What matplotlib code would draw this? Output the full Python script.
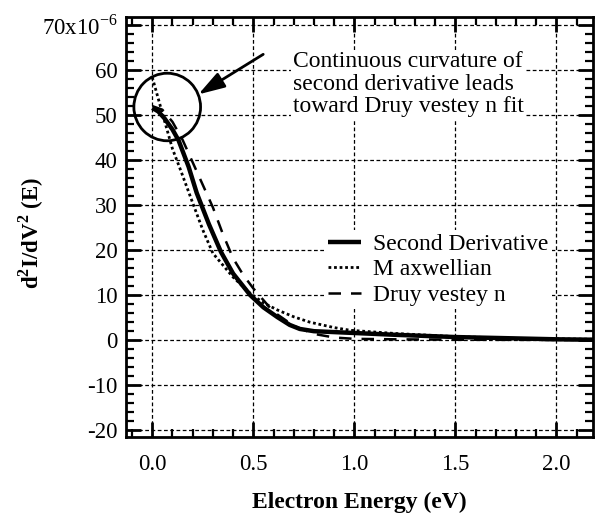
import matplotlib
matplotlib.use("Agg")
import matplotlib.pyplot as plt
from matplotlib.patches import Ellipse
from matplotlib.ticker import MultipleLocator, FuncFormatter

# ---- data (y in units of 1e-6) ----
second_x = [0.0, 0.03, 0.06, 0.1, 0.13, 0.18, 0.22, 0.28, 0.34, 0.4, 0.485, 0.55,
            0.62, 0.68, 0.73, 0.8, 0.9, 1.0, 1.2, 1.5, 1.8, 2.0, 2.2]
second_y = [51.6, 50.8, 49.3, 46.8, 44.4, 38.5, 32.7, 25.8, 19.6, 14.8, 10.0, 7.3,
            5.1, 3.4, 2.5, 2.0, 1.8, 1.6, 1.2, 0.7, 0.4, 0.2, 0.1]

maxw_x = [0.0, 0.05, 0.1, 0.14, 0.2, 0.25, 0.3, 0.4, 0.485, 0.55, 0.62, 0.7,
          0.78, 0.9, 0.98, 1.2, 1.5, 1.8, 2.2]
maxw_y = [58.4, 50.4, 42.5, 37.8, 30.5, 24.5, 19.3, 14.0, 10.4, 8.3, 6.7, 5.2,
          4.0, 2.8, 2.2, 1.5, 0.8, 0.4, 0.2]

druy_x = [0.0, 0.05, 0.1, 0.15, 0.2, 0.25, 0.3, 0.35, 0.4, 0.45, 0.5, 0.55, 0.6,
          0.7, 0.8, 0.9, 1.0, 1.2, 1.5, 2.2]
druy_y = [52.0, 51.2, 48.5, 44.5, 39.5, 34.5, 29.5, 23.5, 18.2, 14.5, 11.5, 8.9, 6.3,
          3.2, 1.4, 0.6, 0.3, 0.2, 0.1, 0.05]

series_labels = ["Second Derivative", "M axwellian", "Druy vestey n"]
x_ticks = [0.0, 0.5, 1.0, 1.5, 2.0]
y_ticks = [-20, -10, 0, 10, 20, 30, 40, 50, 60, 70]

plt.rcParams['font.family'] = ['Liberation Serif', 'DejaVu Serif']
plt.rcParams['mathtext.fontset'] = 'custom'
plt.rcParams['mathtext.rm'] = 'Liberation Serif'
plt.rcParams['mathtext.bf'] = 'Liberation Serif:bold'

fig = plt.figure(figsize=(6.0, 5.27), dpi=100)
ax = fig.add_axes([0.21, 0.1708, 0.778, 0.797])

ax.plot(second_x, second_y, color='black', lw=3.2, solid_capstyle='butt',
        label=series_labels[0], zorder=4)
ax.plot(maxw_x, maxw_y, color='black', lw=2.0, linestyle=(0, (1, 1)),
        label=series_labels[1], zorder=3)
ax.plot(druy_x, druy_y, color='black', lw=1.8, linestyle=(0, (5, 4)),
        label=series_labels[2], zorder=3)

ax.set_xlim(-0.13, 2.18)
ax.set_ylim(-21.5, 71.8)

ax.set_xticks(x_ticks)
ax.set_yticks(y_ticks)
ax.xaxis.set_minor_locator(MultipleLocator(0.1))
ax.yaxis.set_minor_locator(MultipleLocator(2))

ax.xaxis.set_major_formatter(FuncFormatter(lambda v, p: f"{v:.1f}"))
def yfmt(v, p):
    if abs(v - 70) < 1e-6:
        return r"70x10$^{-6}$"
    return f"{int(round(v))}"
ax.yaxis.set_major_formatter(FuncFormatter(yfmt))

ax.tick_params(which='both', direction='in', top=True, right=True,
               labelsize=16.5, colors='black')
ax.tick_params(which='major', length=11, width=2)
ax.tick_params(which='minor', length=6, width=1.6)
ax.tick_params(axis='x', which='major', pad=12)
ax.tick_params(axis='y', which='major', pad=6)
for s in ax.spines.values():
    s.set_linewidth(2)

ax.grid(True, which='major', color='black', lw=0.9, linestyle=(0, (3, 2)))

ax.set_xlabel("Electron Energy (eV)", fontsize=17, fontweight='bold', labelpad=12)
ax.set_ylabel(r"d$^{\mathbf{2}}$I/dV$^{\mathbf{2}}$ (E)", fontsize=16.5,
              fontweight='bold')
ax.yaxis.set_label_coords(-0.172, 0.486)

# circle highlight and arrow
ax.add_patch(Ellipse((0.074, 51.8), 0.33, 15.0, fill=False, edgecolor='black',
                     lw=2, zorder=5))
ax.annotate("", xy=(0.228, 54.6), xytext=(0.549, 63.5),
            arrowprops=dict(arrowstyle='-|>,head_length=1.6,head_width=0.5',
                            color='black', lw=2, shrinkA=0, shrinkB=0), zorder=5)
ax.text(0.695, 56.9, "Continuous curvature of\nsecond derivative leads\ntoward Druy vestey n fit",
        fontsize=17, ha='left', va='center', linespacing=1.1, zorder=6,
        bbox=dict(facecolor='white', edgecolor='none', pad=1))

leg = ax.legend(loc='upper left', bbox_to_anchor=(0.426, 0.493), fontsize=17,
                frameon=True, fancybox=False, framealpha=1, edgecolor='none',
                handlelength=1.36, handletextpad=0.55, labelspacing=0.165,
                borderpad=0.15, borderaxespad=0)
leg.set_zorder(6)

fig.savefig("out.png", dpi=100)
